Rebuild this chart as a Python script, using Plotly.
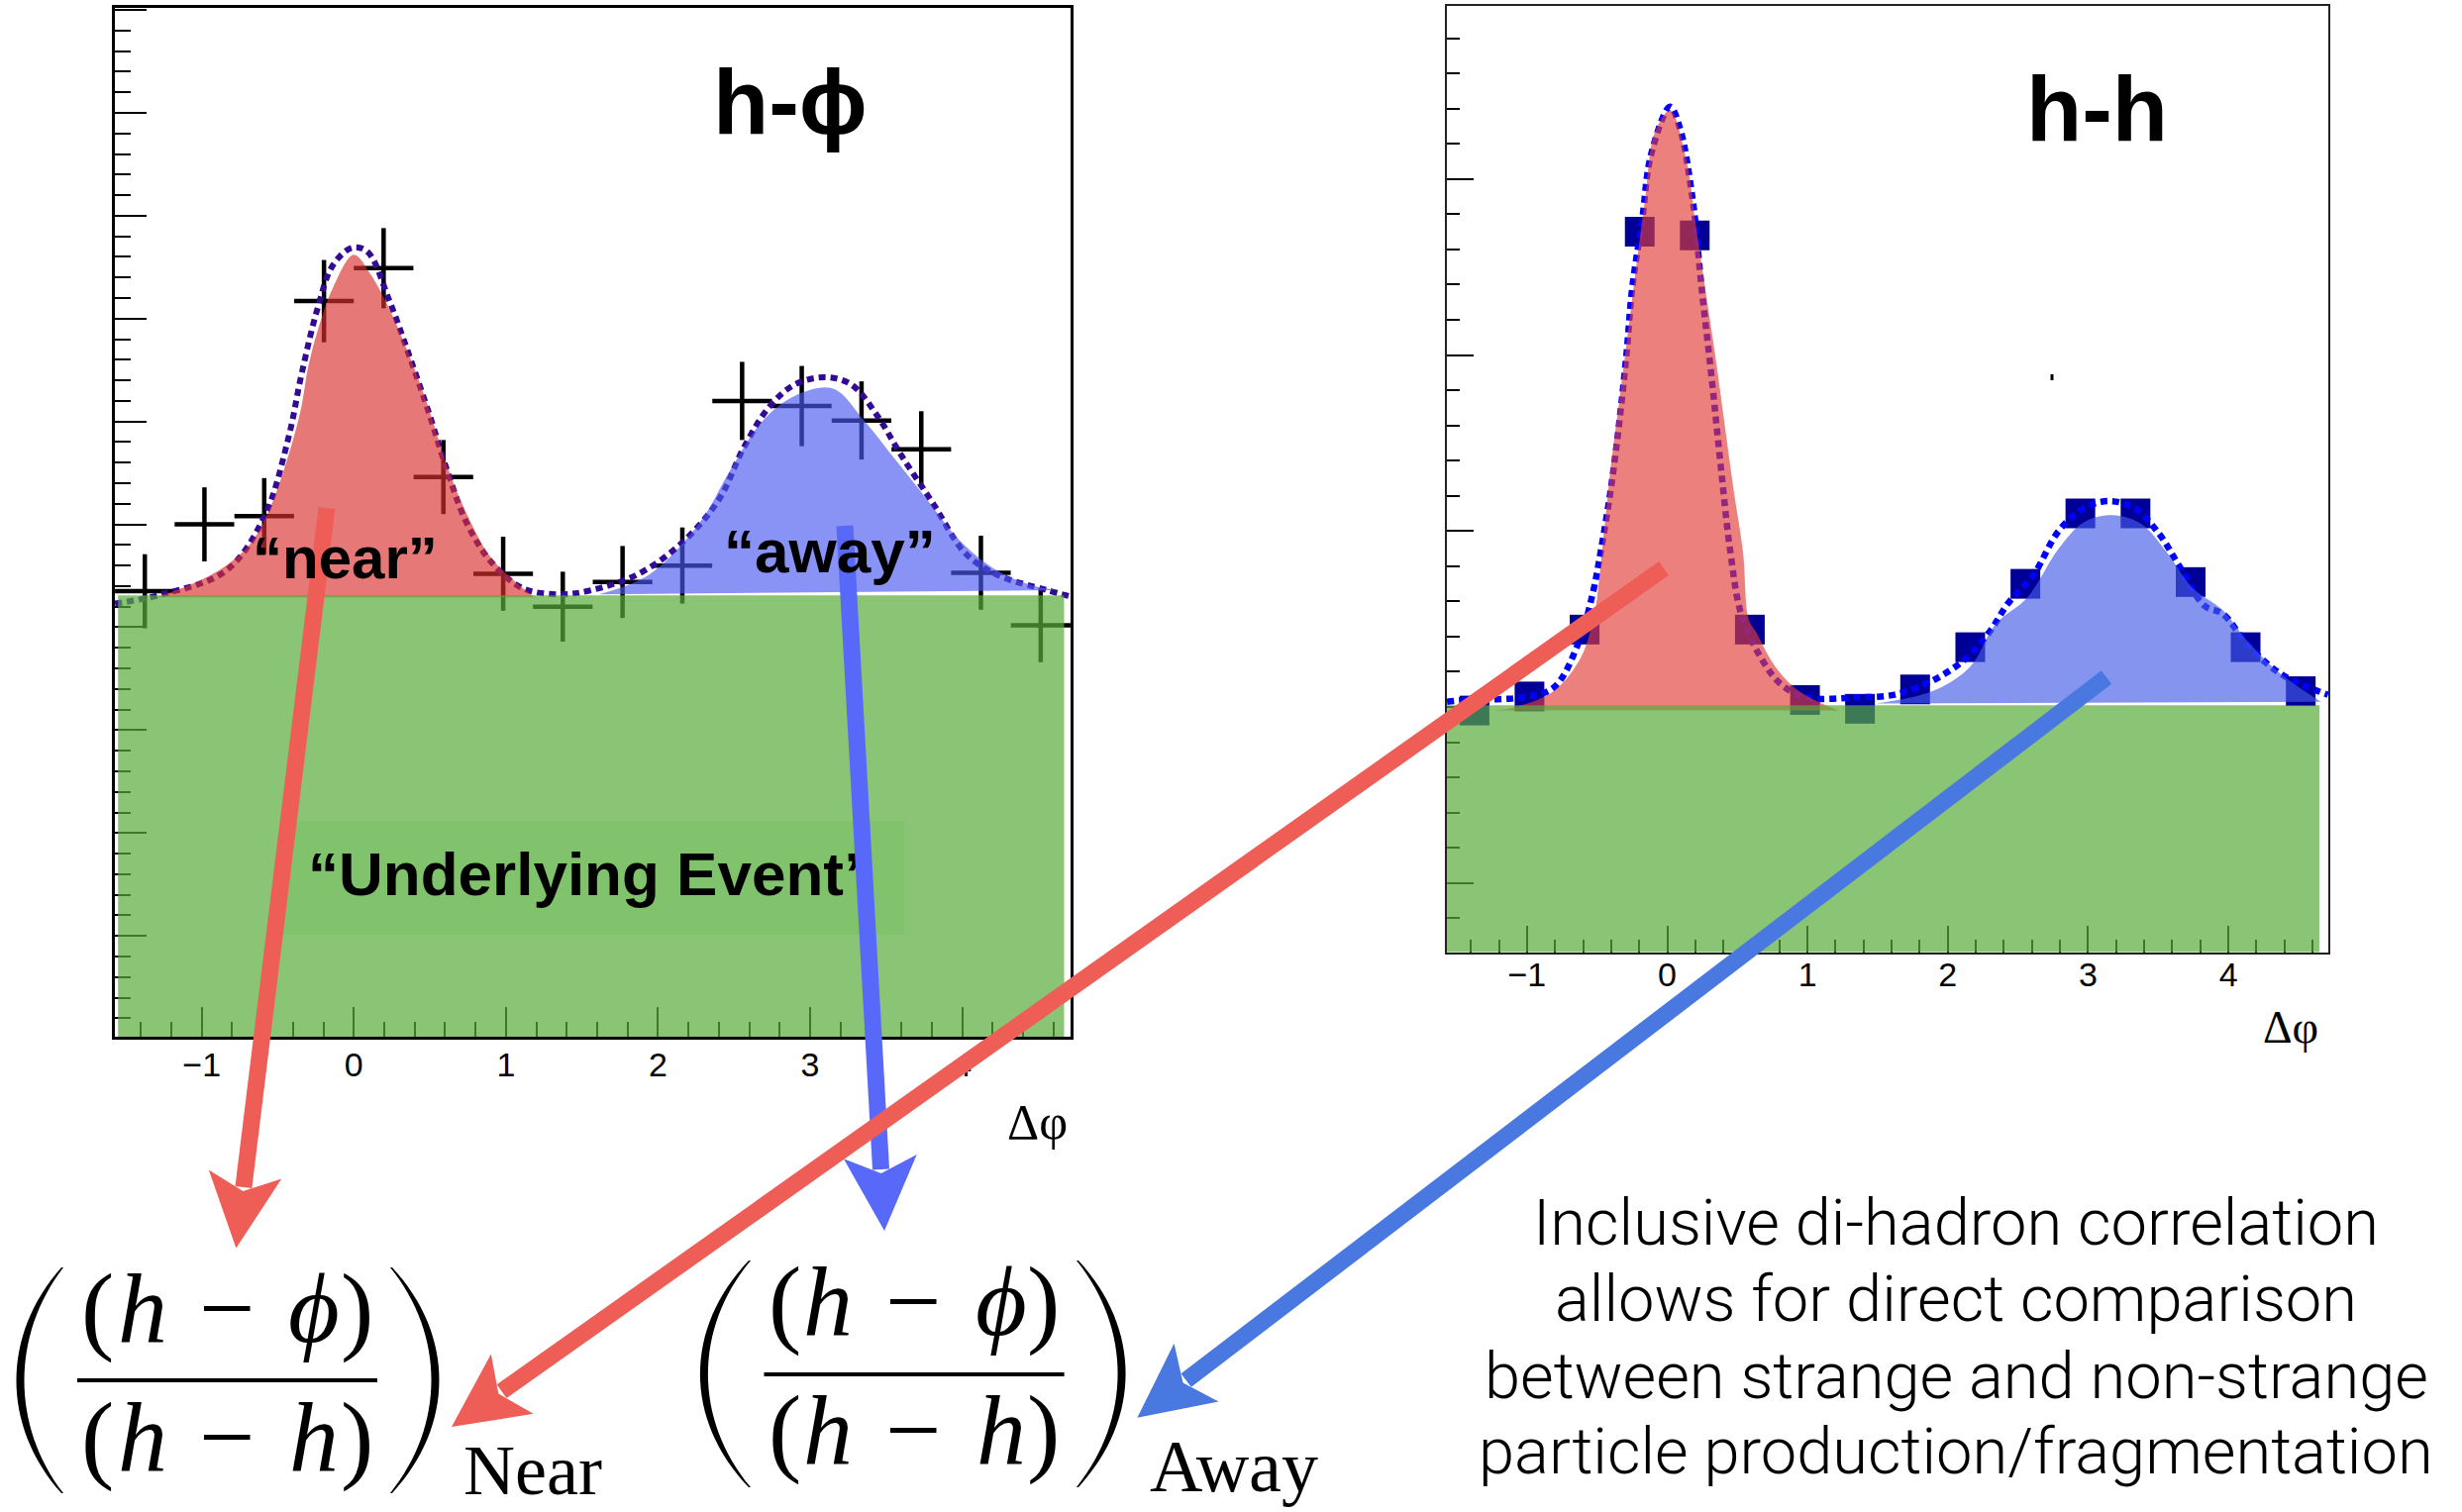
import math
import numpy as np
import plotly.graph_objects as go

W, H = 2486, 1527

# ------------------------------------------------------------------ data
# delta-phi bin centres (16 bins over [-pi/2, 3pi/2])
DPHI = [-1.374, -0.982, -0.589, -0.196, 0.196, 0.589, 0.982, 1.374,
        1.767, 2.160, 2.553, 2.945, 3.338, 3.731, 4.123, 4.516]
BIN_HALF = 0.196

# h-phi correlation (left panel), arbitrary units
H_PHI = [4.35, 5.00, 5.08, 7.17, 7.49, 5.46, 4.52, 4.20,
         4.44, 4.60, 6.20, 6.15, 6.01, 5.73, 4.53, 4.02]
H_PHI_ERR = [0.36, 0.36, 0.37, 0.40, 0.39, 0.36, 0.36, 0.34,
             0.35, 0.37, 0.38, 0.39, 0.38, 0.37, 0.36, 0.36]

# h-h correlation (right panel), arbitrary units
H_H = [1.98, 2.06, 2.44, 4.70, 4.68, 2.44, 2.04, 1.99,
       2.10, 2.34, 2.70, 3.10, 3.10, 2.71, 2.34, 2.09]

# underlying-event levels and band extents
UE_L = 4.31
UE_R = 2.01
UE_X_L = [-1.55, 4.67]
UE_X_R = [-1.60, 4.65]

# left: total fit (dotted)
FIT_L_X = [-1.57, -1.26, -0.84, -0.59, -0.43, -0.345, -0.24, -0.137, -0.01, 0.09,
           0.235, 0.36, 0.49, 0.61, 0.74, 0.90, 1.11, 1.36, 1.56, 1.86,
           2.15, 2.40, 2.565, 2.73, 2.90, 3.10, 3.27, 3.44, 3.60, 3.81,
           4.02, 4.23, 4.56, 4.71]
FIT_L_Y = [4.23, 4.32, 4.55, 5.07, 5.84, 6.45, 7.09, 7.52, 7.69, 7.65,
           7.17, 6.66, 6.10, 5.54, 5.02, 4.64, 4.38, 4.32, 4.36, 4.51,
           4.81, 5.24, 5.75, 6.14, 6.36, 6.43, 6.36, 6.06, 5.67, 5.20,
           4.72, 4.51, 4.36, 4.30]
# left: near-side peak
NEAR_L_X = [-1.30, -1.05, -0.84, -0.68, -0.55, -0.43, -0.345, -0.30, -0.24, -0.137,
            0.0, 0.11, 0.235, 0.36, 0.49, 0.61, 0.74, 0.90, 1.07, 1.19]
NEAR_L_Y = [4.29, 4.43, 4.60, 4.81, 5.16, 5.67, 6.14, 6.53, 6.87, 7.30,
            7.62, 7.43, 7.09, 6.66, 6.14, 5.58, 5.11, 4.68, 4.43, 4.29]
# left: away-side peak
AWAY_L_X = [1.61, 1.94, 2.275, 2.48, 2.69, 2.90, 3.15, 3.355, 3.56, 3.77,
            3.98, 4.23, 4.48, 4.64]
AWAY_L_Y = [4.32, 4.51, 5.02, 5.54, 6.01, 6.25, 6.32, 6.01, 5.63, 5.24,
            4.85, 4.55, 4.40, 4.36]

# right: total fit (dotted)
FIT_R_X = [-1.57, -1.44, -1.035, -0.81, -0.63, -0.53, -0.475, -0.40, -0.34, -0.29,
           -0.25, -0.18, -0.115, 0.02, 0.09, 0.18, 0.245, 0.315, 0.38, 0.45,
           0.53, 0.675, 0.81, 0.99, 1.35, 1.62, 1.89, 2.12, 2.30, 2.43,
           2.61, 2.79, 2.97, 3.15, 3.33, 3.51, 3.65, 3.83, 3.96, 4.14,
           4.37, 4.64, 4.71]
FIT_R_Y = [2.03, 2.04, 2.055, 2.11, 2.37, 2.65, 2.88, 3.25, 3.63, 4.01,
           4.38, 4.76, 5.14, 5.41, 5.29, 4.89, 4.38, 3.88, 3.38, 2.88,
           2.52, 2.27, 2.13, 2.055, 2.055, 2.07, 2.15, 2.27, 2.43, 2.59,
           2.75, 3.00, 3.13, 3.17, 3.13, 2.98, 2.80, 2.575, 2.53, 2.35,
           2.19, 2.09, 2.07]
# right: near-side peak
NEAR_R_X = [-1.24, -1.08, -0.81, -0.61, -0.52, -0.50, -0.45, -0.40, -0.34, -0.28,
            -0.22, -0.157, -0.09, 0.02, 0.136, 0.20, 0.27, 0.34, 0.405, 0.47,
            0.54, 0.58, 0.63, 0.77, 0.94, 1.22]
NEAR_R_Y = [1.98, 2.00, 2.09, 2.29, 2.53, 2.62, 3.00, 3.38, 3.75, 4.13,
            4.51, 4.89, 5.26, 5.39, 5.11, 4.76, 4.38, 4.01, 3.63, 3.25,
            2.88, 2.50, 2.43, 2.23, 2.09, 1.98]
# right: away-side peak
AWAY_R_X = [1.49, 1.89, 2.16, 2.34, 2.57, 2.79, 2.97, 3.175, 3.38, 3.56,
            3.74, 3.96, 4.14, 4.37, 4.66]
AWAY_R_Y = [2.02, 2.09, 2.23, 2.47, 2.625, 2.90, 3.05, 3.09, 3.04, 2.88,
            2.68, 2.55, 2.37, 2.19, 2.03]

TEXT_LINES = ["Inclusive di-hadron correlation",
              "allows for direct comparison",
              "between strange and non-strange",
              "particle production/fragmentation"]

# ------------------------------------------------------------------ styles
RED_FILL_L = "rgba(218,47,47,0.65)"
BLUE_FILL_L = "rgba(73,87,240,0.65)"
RED_FILL_R = "rgba(224,60,55,0.65)"
BLUE_FILL_R = "rgba(67,90,229,0.65)"
GREEN_FILL = "rgba(89,172,59,0.70)"
RED_ARROW = "#EE5E57"
BLUE_ARROW_1 = "#5869FA"
BLUE_ARROW_2 = "#4878E0"

fig = go.Figure()

# ---------------- left panel (h-phi) ----------------
fig.add_trace(go.Scatter(
    x=DPHI, y=H_PHI, mode="markers", xaxis="x", yaxis="y",
    marker=dict(size=1, color="rgba(0,0,0,0)"),
    error_x=dict(type="constant", value=BIN_HALF, color="black", thickness=4.5, width=0),
    error_y=dict(type="data", array=H_PHI_ERR, color="black", thickness=4.5, width=0),
    showlegend=False, hoverinfo="skip"))
fig.add_trace(go.Scatter(
    x=FIT_L_X, y=FIT_L_Y, mode="lines", xaxis="x", yaxis="y",
    line=dict(color="rgb(50,10,150)", width=6, dash="7px,5px", shape="spline"),
    showlegend=False, hoverinfo="skip"))
fig.add_trace(go.Scatter(
    x=NEAR_L_X, y=NEAR_L_Y, mode="lines", fill="toself", fillcolor=RED_FILL_L,
    xaxis="x", yaxis="y", line=dict(width=0, shape="spline"),
    showlegend=False, hoverinfo="skip"))
fig.add_trace(go.Scatter(
    x=AWAY_L_X, y=AWAY_L_Y, mode="lines", fill="toself", fillcolor=BLUE_FILL_L,
    xaxis="x", yaxis="y", line=dict(width=0, shape="spline"),
    showlegend=False, hoverinfo="skip"))
fig.add_trace(go.Scatter(
    x=UE_X_L, y=[UE_L, UE_L], mode="lines", fill="tozeroy", fillcolor=GREEN_FILL,
    xaxis="x", yaxis="y", line=dict(width=0),
    showlegend=False, hoverinfo="skip"))

# ---------------- right panel (h-h) ----------------
fig.add_trace(go.Scatter(
    x=DPHI, y=H_H, mode="markers", xaxis="x2", yaxis="y2",
    marker=dict(symbol="square", size=30, color="rgb(0,0,150)", line=dict(width=0)),
    showlegend=False, hoverinfo="skip"))
fig.add_trace(go.Scatter(
    x=FIT_R_X, y=FIT_R_Y, mode="lines", xaxis="x2", yaxis="y2",
    line=dict(color="rgb(0,0,255)", width=6.5, dash="7px,5px", shape="spline"),
    showlegend=False, hoverinfo="skip"))
fig.add_trace(go.Scatter(
    x=NEAR_R_X, y=NEAR_R_Y, mode="lines", fill="toself", fillcolor=RED_FILL_R,
    xaxis="x2", yaxis="y2", line=dict(width=0, shape="spline"),
    showlegend=False, hoverinfo="skip"))
fig.add_trace(go.Scatter(
    x=AWAY_R_X, y=AWAY_R_Y, mode="lines", fill="toself", fillcolor=BLUE_FILL_R,
    xaxis="x2", yaxis="y2", line=dict(width=0, shape="spline"),
    showlegend=False, hoverinfo="skip"))
fig.add_trace(go.Scatter(
    x=UE_X_R, y=[UE_R, UE_R], mode="lines", fill="tozeroy", fillcolor=GREEN_FILL,
    xaxis="x2", yaxis="y2", line=dict(width=0),
    showlegend=False, hoverinfo="skip"))

# ---------------- overlay (pixel) subplot for labels / arrows ----------------
fig.add_trace(go.Scatter(
    x=[597], y=[909.7 - 0.35 * 62], mode="text", xaxis="x3", yaxis="y3",
    text=["“Underlying Event”"], textposition="middle center",
    textfont=dict(family="Liberation Sans", size=62, color="black", weight="bold"),
    showlegend=False, hoverinfo="skip"))


def px_x(x):
    return x / W


def px_y(y):
    return 1 - y / H


axis_x = dict(range=[-math.pi / 2, 3 * math.pi / 2], tickmode="linear", tick0=0, dtick=1,
              ticks="inside", tickcolor="black", showline=True, mirror=True,
              linecolor="black", showgrid=False, zeroline=False,
              tickfont=dict(family="Liberation Sans", size=34, color="black"),
              layer="below traces", fixedrange=True)

fig.update_layout(
    width=W, height=H, template="none",
    margin=dict(l=0, r=0, t=0, b=0, autoexpand=False),
    paper_bgcolor="white", plot_bgcolor="rgba(0,0,0,0)",
    showlegend=False,
    xaxis=dict(axis_x, domain=[px_x(116), px_x(1081)], anchor="y",
               ticklen=30, tickwidth=2, linewidth=2.5, ticklabelstandoff=-4,
               minor=dict(ticks="inside", ticklen=15, tickwidth=2, tickcolor="black",
                          dtick=0.2, tick0=0, showgrid=False)),
    yaxis=dict(domain=[px_y(1047), px_y(8)], anchor="x", range=[0.02, 10.02],
               tickmode="linear", tick0=0, dtick=1, ticks="inside", ticklen=32, tickwidth=2,
               tickcolor="black", showticklabels=False, showline=True, mirror=True,
               linecolor="black", linewidth=2.5, showgrid=False, zeroline=False,
               layer="below traces", fixedrange=True,
               minor=dict(ticks="inside", ticklen=16, tickwidth=2, tickcolor="black",
                          dtick=0.2, tick0=0, showgrid=False)),
    xaxis2=dict(axis_x, domain=[px_x(1461), px_x(2351)], anchor="y2",
                ticklen=27, tickwidth=1.6, linewidth=1.6, linecolor="#222",
                ticklabelstandoff=-8,
                minor=dict(ticks="inside", ticklen=13, tickwidth=1.6, tickcolor="black",
                           dtick=0.2, tick0=0, showgrid=False)),
    yaxis2=dict(domain=[px_y(961.5), px_y(6)], anchor="x2", range=[0.608, 5.983],
                tickmode="linear", tick0=0, dtick=1, ticks="inside", ticklen=27, tickwidth=1.6,
                tickcolor="black", showticklabels=False, showline=True, mirror=True,
                linecolor="#222", linewidth=1.6, showgrid=False, zeroline=False,
                layer="below traces", fixedrange=True,
                minor=dict(ticks="inside", ticklen=13, tickwidth=1.6, tickcolor="black",
                           dtick=0.2, tick0=0, showgrid=False)),
    xaxis3=dict(domain=[0, 1], range=[0, W], anchor="y3", visible=False, fixedrange=True),
    yaxis3=dict(domain=[0, 1], range=[H, 0], anchor="x3", visible=False, fixedrange=True),
)

shapes = []
annotations = []


def text_at(text, x, base, size, family="Liberation Sans", weight="normal",
            xanchor="center", color="black", style="normal"):
    annotations.append(dict(
        xref="x3", yref="y3", x=x, y=base - 0.34 * size, text=text, showarrow=False,
        xanchor=xanchor, yanchor="middle",
        font=dict(family=family, size=size, color=color, weight=weight, style=style)))


# underlying-event label box (slightly darker green)
shapes.append(dict(type="rect", xref="x3", yref="y3", x0=285, x1=913, y0=829, y1=944,
                   fillcolor="rgba(60,170,40,0.11)", line=dict(width=0), layer="below"))
# stray dot in right panel
shapes.append(dict(type="rect", xref="x3", yref="y3", x0=2070.5, x1=2073.5, y0=378, y1=384,
                   fillcolor="black", line=dict(width=0), layer="above"))

# panel labels
text_at("h-ϕ", 798, 134, 92, family="Liberation Sans, DejaVu Sans", weight="bold")
text_at("h-h", 2117, 141, 92, weight="bold")
text_at("“near”", 348, 584, 60, weight="bold")
text_at("“away”", 838, 578, 62, weight="bold")
text_at("Δφ", 1080, 1150, 50, family="Liberation Serif", xanchor="right")
text_at("Δφ", 2343, 1053, 46, family="Liberation Serif", xanchor="right")

# right-hand explanatory text
for line, base in zip(TEXT_LINES, [1256.7, 1334, 1411.7, 1488]):
    text_at(line, 1975, base, 65, family="Roboto", weight=300)


# ---------------- formulas ----------------
SERIF = "Liberation Serif, DejaVu Serif"


def fraction(cx_paren_l, cx_h1, cx_minus, cx_2, cx_paren_r, base_num, base_den,
             bar_x0, bar_x1, bar_y):
    for base, second in ((base_num, "<i>ϕ</i>"), (base_den, "<i>h</i>")):
        text_at("(", cx_paren_l, base, 100, family=SERIF)
        text_at("<i>h</i>", cx_h1, base, 100, family=SERIF)
        text_at("−", cx_minus, base, 100, family=SERIF)
        text_at(second, cx_2, base, 100, family=SERIF)
        text_at(")", cx_paren_r, base, 100, family=SERIF)
    shapes.append(dict(type="line", xref="x3", yref="y3", x0=bar_x0, x1=bar_x1,
                       y0=bar_y, y1=bar_y, line=dict(color="black", width=4), layer="above"))


def big_paren(xe, xm, yt, yb, side, t=8.0):
    """side=+1 for '(' (bulges left), -1 for ')' (bulges right)."""
    h = yb - yt
    co = (xm - 0.25 * xe) / 0.75
    xi = xe + side * 2.0
    ci = (xm + side * t - 0.25 * xi) / 0.75
    a, b = yt + 0.3 * h, yb - 0.3 * h
    path = (f"M{xe},{yt} C{co},{a} {co},{b} {xe},{yb} "
            f"L{xi},{yb} C{ci},{b} {ci},{a} {xi},{yt} Z")
    shapes.append(dict(type="path", xref="x3", yref="y3", path=path,
                       fillcolor="black", line=dict(width=0), layer="above"))


# Near ratio
fraction(98.5, 144, 228.5, 316.5, 360, 1355, 1485, 78, 381, 1394)
big_paren(62, 16.6, 1280, 1508, +1)
big_paren(396, 443.6, 1280, 1508, -1)
text_at("Near", 466, 1509, 72, family=SERIF, xanchor="left")
# Away ratio
fraction(792, 836, 922, 1011, 1053.5, 1348.3, 1478.3, 771.5, 1074.6, 1388)
big_paren(756, 707, 1273, 1502, +1)
big_paren(1089, 1136.7, 1273, 1502, -1)
text_at("Away", 1159, 1506, 74, family=SERIF, xanchor="left")


# ---------------- arrows ----------------
def arrow(x0, y0, x1, y1, color, w=17, hl=75, hw=74, notch=58):
    dx, dy = x1 - x0, y1 - y0
    L = math.hypot(dx, dy)
    ux, uy = dx / L, dy / L
    px_, py_ = -uy, ux
    sx, sy = x1 - ux * (notch + 4), y1 - uy * (notch + 4)
    shapes.append(dict(type="line", xref="x3", yref="y3", x0=x0, y0=y0, x1=sx, y1=sy,
                       line=dict(color=color, width=w), layer="above"))
    bx, by = x1 - ux * hl, y1 - uy * hl
    c1 = (bx + px_ * hw / 2, by + py_ * hw / 2)
    c2 = (bx - px_ * hw / 2, by - py_ * hw / 2)
    nx, ny = x1 - ux * notch, y1 - uy * notch
    path = (f"M{x1},{y1} L{c1[0]},{c1[1]} L{nx},{ny} L{c2[0]},{c2[1]} Z")
    shapes.append(dict(type="path", xref="x3", yref="y3", path=path, fillcolor=color,
                       line=dict(width=0), layer="above"))


arrow(330, 513, 238.4, 1260.5, RED_ARROW)
arrow(853, 531, 893, 1243, BLUE_ARROW_1)
arrow(1680, 574, 456, 1441, RED_ARROW)
arrow(2127, 684, 1148.4, 1431.7, BLUE_ARROW_2)

fig.update_layout(shapes=shapes, annotations=annotations)
fig.write_html("out.html")
